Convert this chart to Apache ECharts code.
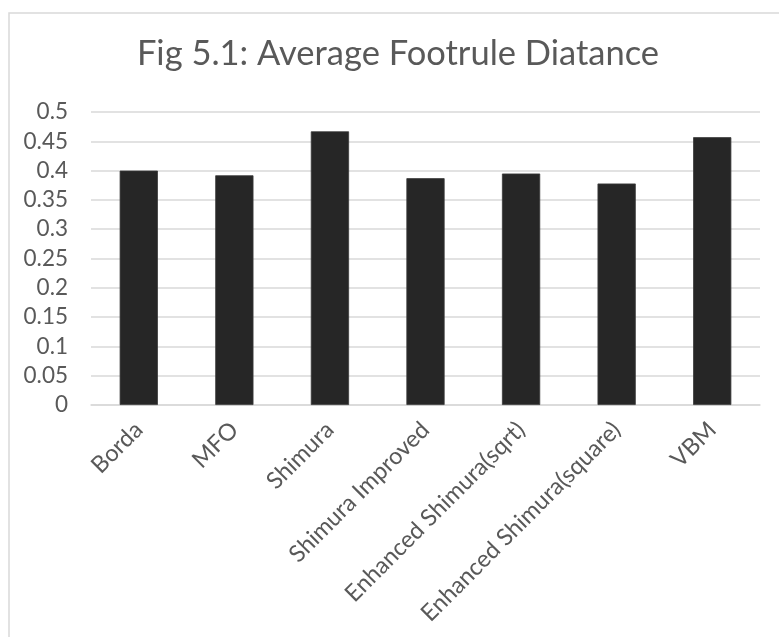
<!DOCTYPE html>
<html>
<head>
<meta charset="utf-8">
<script src="https://cdn.jsdelivr.net/npm/echarts@6/dist/echarts.min.js"></script>
<style>
  html, body { margin: 0; padding: 0; background: #fff; }
  #chart { width: 779px; height: 637px; }
</style>
</head>
<body>
<div id="chart"></div>
<script>
// data
var categories = [
  "Borda",
  "MFO",
  "Shimura",
  "Shimura Improved",
  "Enhanced Shimura(sqrt)",
  "Enhanced Shimura(square)",
  "VBM"
];
var footruleValues = [0.400, 0.392, 0.467, 0.387, 0.395, 0.378, 0.457];
var yMin = 0;
var yMax = 0.5;
var yStep = 0.05;

var chart = echarts.init(document.getElementById("chart"));
chart.setOption({
  animation: false,
  backgroundColor: "#ffffff",
  title: {
    text: "Fig 5.1: Average Footrule Diatance",
    left: 393,
    top: 31,
    textAlign: "center",
    textStyle: {
      fontFamily: "Lato",
      fontSize: 34.5,
      fontWeight: "normal",
      color: "#595959"
    }
  },
  graphic: [
    {
      type: "rect",
      shape: { x: 9, y: 13, width: 900, height: 800 },
      style: { fill: "none", stroke: "#d9d9d9", lineWidth: 1.5 },
      silent: true
    }
  ],
  grid: {
    left: 91,
    right: 19,
    top: 112,
    bottom: 232
  },
  xAxis: {
    type: "category",
    data: categories,
    axisLine: { lineStyle: { color: "#d9d9d9", width: 1.5 } },
    axisTick: { show: false },
    axisLabel: {
      interval: 0,
      rotate: 45,
      margin: 21,
      fontFamily: "Lato",
      fontSize: 23.5,
      color: "#595959"
    }
  },
  yAxis: {
    type: "value",
    min: yMin,
    max: yMax,
    interval: yStep,
    axisLine: { show: false },
    axisTick: { show: false },
    splitLine: { lineStyle: { color: "#d9d9d9", width: 1.5 } },
    axisLabel: {
      margin: 23,
      fontFamily: "Lato",
      fontSize: 22.5,
      color: "#595959"
    }
  },
  series: [
    {
      type: "bar",
      data: footruleValues,
      barCategoryGap: "60%",
      itemStyle: { color: "#262626", borderColor: "#3a3a3a", borderWidth: 0.8 }
    }
  ]
});
</script>
</body>
</html>
